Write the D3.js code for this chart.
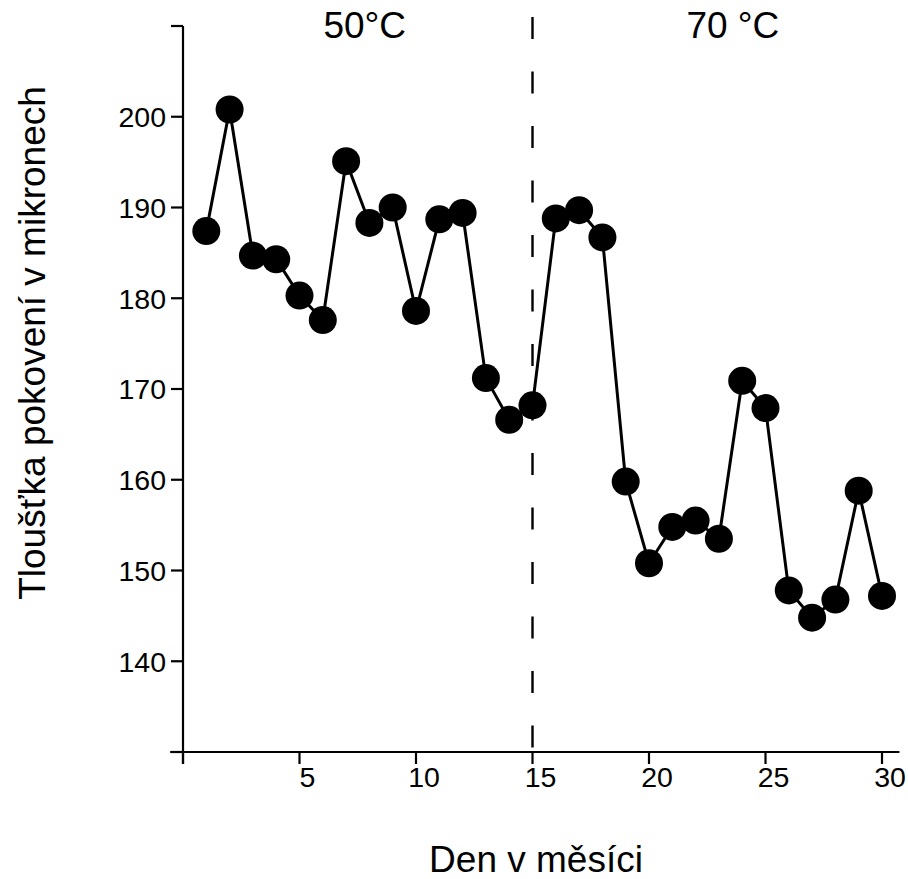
<!DOCTYPE html>
<html>
<head>
<meta charset="utf-8">
<script src="https://cdn.jsdelivr.net/npm/d3@7"></script>
<style>
  html, body { margin: 0; padding: 0; background: #fff; }
  svg { display: block; font-family: "Liberation Sans", Arial, sans-serif; }
</style>
</head>
<body>
<svg id="chart" width="908" height="879"></svg>
<script>
// Data
const days = [1,2,3,4,5,6,7,8,9,10,11,12,13,14,15,16,17,18,19,20,21,22,23,24,25,26,27,28,29,30];
const thickness = [187.4,200.8,184.7,184.3,180.3,177.6,195.1,188.3,190.0,178.6,188.7,189.4,171.2,166.6,168.2,
                   188.8,189.7,186.7,159.8,150.8,154.8,155.5,153.5,170.9,167.9,147.8,144.8,146.8,158.8,147.2];
const xTicks = [0,5,10,15,20,25,30];
const xTickLabels = ["","5","10","15","20","25","30"];
const yTicks = [130,140,150,160,170,180,190,200,210];
const yTickLabels = ["","140","150","160","170","180","190","200",""];
const periodLabels = ["50°C","70 °C"];
const periodLabelDays = [7.8,23.6];
const splitDay = 15;
const xTitle = "Den v měsíci";
const yTitle = "Tloušťka pokovení v mikronech";

const svg = d3.select("#chart");
const x = d3.scaleLinear().domain([0,30]).range([183,882]);
const y = d3.scaleLinear().domain([130,210]).range([752,26]);

// X axis
const xAxis = svg.append("g").attr("transform","translate(0,752)");
xAxis.append("line").attr("x1", x(-0.55)).attr("x2", x(30.75)).attr("y1",0).attr("y2",0)
  .attr("stroke","#000").attr("stroke-width",2.2);
const xt = xAxis.selectAll(".xt").data(xTicks).join("g").attr("transform", d => `translate(${x(d)},0)`);
xt.append("line").attr("y1",0).attr("y2",12).attr("stroke","#000").attr("stroke-width",2.2);
xt.append("text").text((d,i) => xTickLabels[i]).attr("x",8).attr("y",35)
  .attr("text-anchor","middle").attr("font-size",28.5).attr("fill","#000");

// Y axis
const yAxis = svg.append("g").attr("transform",`translate(${x(0)},0)`);
yAxis.append("line").attr("x1",0).attr("x2",0).attr("y1",y(210)).attr("y2",y(130)+12)
  .attr("stroke","#000").attr("stroke-width",2.2);
const yt = yAxis.selectAll(".yt").data(yTicks).join("g").attr("transform", d => `translate(0,${y(d)})`);
yt.append("line").attr("x1",-12).attr("x2",0).attr("stroke","#000").attr("stroke-width",2.2);
yt.append("text").text((d,i) => yTickLabels[i]).attr("x",-17).attr("dy","0.36em")
  .attr("text-anchor","end").attr("font-size",28.5).attr("fill","#000");

// Dashed separator
svg.append("line").attr("x1",x(splitDay)).attr("x2",x(splitDay)).attr("y1",17).attr("y2",752)
  .attr("stroke","#000").attr("stroke-width",2.4).attr("stroke-dasharray","22,32.5");

// Line + points
const pts = days.map((d,i) => ({d, v: thickness[i]}));
svg.append("path").datum(pts)
  .attr("d", d3.line().x(p => x(p.d)).y(p => y(p.v)))
  .attr("fill","none").attr("stroke","#000").attr("stroke-width",3);
svg.selectAll(".pt").data(pts).join("circle")
  .attr("cx", p => x(p.d)).attr("cy", p => y(p.v)).attr("r",14).attr("fill","#000");

// Period labels
svg.selectAll(".pl").data(periodLabels).join("text")
  .text(d => d).attr("x",(d,i) => x(periodLabelDays[i])).attr("y",38)
  .attr("text-anchor","middle").attr("font-size",37).attr("fill","#000");

// Axis titles
svg.append("text").text(xTitle).attr("x",536).attr("y",872)
  .attr("text-anchor","middle").attr("font-size",37).attr("fill","#000");
svg.append("text").text(yTitle).attr("transform","translate(45,343) rotate(-90)")
  .attr("text-anchor","middle").attr("font-size",37).attr("fill","#000");
</script>
</body>
</html>
